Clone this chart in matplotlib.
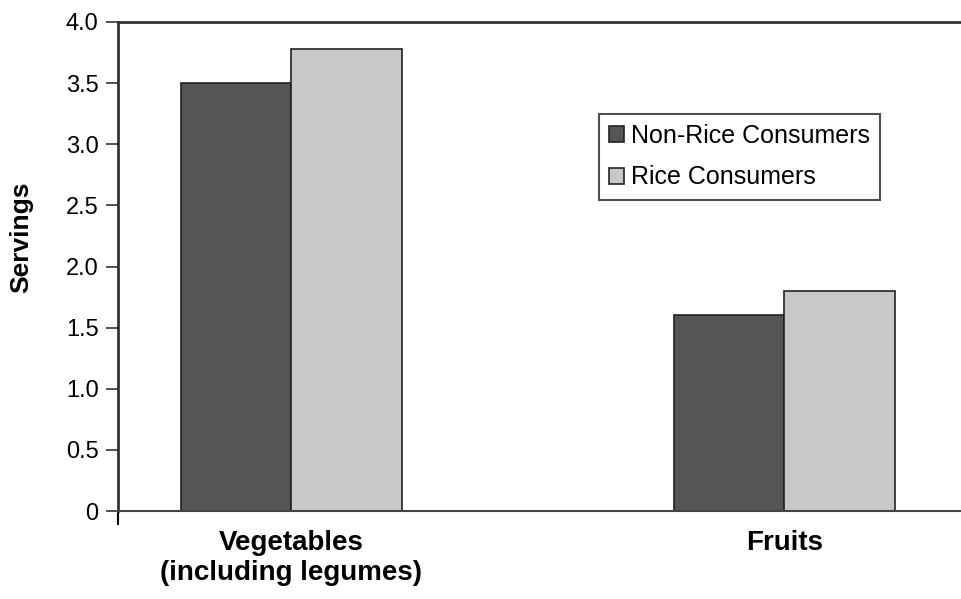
import matplotlib.pyplot as plt
import numpy as np

categories = ["Vegetables\n(including legumes)", "Fruits"]
non_rice = [3.5, 1.6]
rice = [3.78, 1.8]
series_names = ["Non-Rice Consumers", "Rice Consumers"]
yticks = [0, 0.5, 1.0, 1.5, 2.0, 2.5, 3.0, 3.5, 4.0]
ytick_labels = ["0", "0.5", "1.0", "1.5", "2.0", "2.5", "3.0", "3.5", "4.0"]

plt.rcParams['font.family'] = ['Liberation Sans', 'DejaVu Sans']

fig = plt.figure(figsize=(9.62, 5.99), dpi=100)
ax = fig.add_axes([118/962, 88/599, 1 - 118/962 + 0.01, 489/599])

x = np.arange(len(categories))
w = 0.224
ax.bar(x - w/2, non_rice, w, color='#555555', edgecolor='#222222', linewidth=1.2, label=series_names[0])
ax.bar(x + w/2, rice, w, color='#c8c8c8', edgecolor='#222222', linewidth=1.2, label=series_names[1])

ax.set_xlim(-0.352, 1.38)
ax.set_ylim(0, 4.0)
ax.set_yticks(yticks)
ax.set_yticklabels(ytick_labels, fontsize=17)
ax.tick_params(axis='y', direction='out', length=9, width=1.2, pad=5, color='#333333')

ax.set_xticks(x)
ax.set_xticklabels(categories, fontsize=20, fontweight='bold', linespacing=1.2, va='top')
ax.tick_params(axis='x', length=0, pad=14)
ax.set_xticks([-0.352], minor=True)
ax.tick_params(axis='x', which='minor', direction='out', length=10, width=1.5)

for s in ['left', 'top']:
    ax.spines[s].set_linewidth(2)
    ax.spines[s].set_color('#333333')
ax.spines['bottom'].set_linewidth(1.5)
ax.spines['bottom'].set_color('#444444')
ax.spines['right'].set_visible(False)

# label anchor is its right edge once rotated
ax.set_ylabel("Servings", fontsize=19, fontweight='bold')
ax.yaxis.set_label_coords(-0.0996, 0.56)

leg = ax.legend(loc='upper left', bbox_to_anchor=(599/962, 1 - 114/599), bbox_transform=fig.transFigure,
                fontsize=18, frameon=True, fancybox=False, edgecolor='#222222', borderaxespad=0,
                handlelength=0.6, handleheight=0.6, handletextpad=0.3, labelspacing=0.7, borderpad=0.4)
leg.get_frame().set_linewidth(1.5)

fig.savefig("out.png", dpi=100)
